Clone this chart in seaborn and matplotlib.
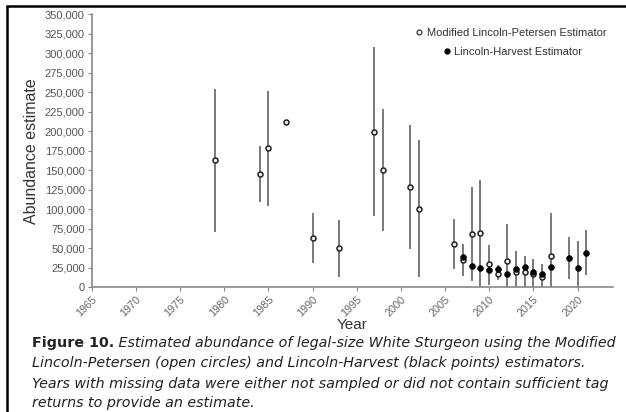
import numpy as np
import pandas as pd
import matplotlib
matplotlib.use("Agg")
import matplotlib.pyplot as plt
from matplotlib.lines import Line2D
import seaborn as sns

# ---- data ----
mlp_years = [1979, 1984, 1985, 1987, 1990, 1993, 1997, 1998, 2001, 2002, 2006,
             2007, 2008, 2009, 2010, 2011, 2012, 2013, 2014, 2015, 2016, 2017]
mlp_est = [162600, 145400, 178000, 212200, 62900, 49700, 199300, 149800, 128000, 100100, 55600,
           34700, 68400, 69300, 29100, 16700, 33800, 19300, 19300, 16300, 12400, 39800]
mlp_low = [70200, 109100, 104000, np.nan, 31200, 12400, 91100, 71500, 48400, 12400, 23100,
           14500, 8100, 0, 3000, 8600, 0, 0, 0, 0, 0, 0]
mlp_high = [253700, 181400, 251600, np.nan, 94600, 86000, 307600, 228100, 207500, 188700, 87300,
            54800, 128000, 137300, 54300, 27900, 80900, 46200, 40200, 35600, 29500, 95400]

lh_years = [2007, 2008, 2009, 2010, 2011, 2012, 2013, 2014, 2015, 2016, 2017, 2019, 2020, 2021]
lh_est = [38100, 27000, 24400, 21400, 23100, 16300, 22700, 25300, 19600, 16700, 25300, 37600, 24400, 44000]
lh_low = [np.nan] * 11 + [10700, 0, 15800]
lh_high = [np.nan] * 11 + [64200, 59400, 72800]

x_ticks = list(range(1965, 2021, 5))
y_ticks = list(range(0, 350001, 25000))

mlp = pd.DataFrame({"Year": mlp_years, "Estimate": mlp_est, "Low": mlp_low, "High": mlp_high})
lh = pd.DataFrame({"Year": lh_years, "Estimate": lh_est, "Low": lh_low, "High": lh_high})

# ---- style ----
sns.set_style("ticks")
plt.rcParams["font.family"] = ["Liberation Sans", "DejaVu Sans"]

fig = plt.figure(figsize=(6.26, 4.12), dpi=100)
W, H = 626, 412
ax = fig.add_axes([91.7 / W, 1 - 287 / H, (613 - 91.7) / W, (287 - 14.3) / H])

bar_col = "#555555"
m = mlp.dropna()
ax.vlines(m["Year"], m["Low"], m["High"], color=bar_col, lw=1.1, zorder=2)
l = lh.dropna()
ax.vlines(l["Year"], l["Low"], l["High"], color=bar_col, lw=1.1, zorder=2)

sns.scatterplot(data=mlp, x="Year", y="Estimate", ax=ax, marker="o", s=13,
                facecolor="#eeeeee", edgecolor="#222222", linewidth=1.1, zorder=3, legend=False)
sns.scatterplot(data=lh, x="Year", y="Estimate", ax=ax, marker="o", s=18,
                color="black", edgecolor="black", linewidth=0.4, zorder=4, legend=False)

ax.set_xlim(1965, 2024)
ax.set_ylim(0, 350000)
ax.set_xticks(x_ticks)
ax.set_xticklabels([str(t) for t in x_ticks], rotation=45, ha="right",
                   rotation_mode="anchor", fontsize=7.8, color="#666666")
ax.set_yticks(y_ticks)
ax.set_yticklabels([f"{t:,}" for t in y_ticks], fontsize=8, color="#555555")
for side in ["top", "right"]:
    ax.spines[side].set_visible(False)
for side in ["left", "bottom"]:
    ax.spines[side].set_color("#888888")
    ax.spines[side].set_linewidth(1.2)
ax.tick_params(axis="both", length=3, width=0.8, color="#888888", pad=2)
ax.set_xlabel("Year", fontsize=11, color="#333333", labelpad=0)
ax.set_ylabel("Abundance estimate", fontsize=11.5, color="#333333", labelpad=4)

h1 = Line2D([], [], marker="o", ls="", markersize=3.5, markerfacecolor="white",
            markeredgecolor="#333333", markeredgewidth=0.9)
h2 = Line2D([], [], marker="o", ls="", markersize=3.5, color="black")
leg1 = ax.legend(handles=[h1], labels=["Modified Lincoln-Petersen Estimator"],
                 loc="center", bbox_to_anchor=(0.804, 0.931), frameon=False,
                 fontsize=8, handlelength=0.6, handletextpad=0.4, borderpad=0,
                 labelcolor="#333333")
ax.add_artist(leg1)
ax.legend(handles=[h2], labels=["Lincoln-Harvest Estimator"],
          loc="center", bbox_to_anchor=(0.808, 0.862), frameon=False,
          fontsize=8, handlelength=0.6, handletextpad=0.4, borderpad=0,
          labelcolor="#333333")

# ---- document frame lines ----
fig.add_artist(Line2D([7 / W, 7 / W], [0, 1 - 6 / H], color="black", lw=1.8,
                      transform=fig.transFigure))
fig.add_artist(Line2D([7 / W, 1], [1 - 6 / H, 1 - 6 / H], color="black", lw=1.8,
                      transform=fig.transFigure))

# ---- caption ----
cap_col = "#222222"
cap_family = ["DejaVu Sans"]
head = "Figure 10."
lines = [
    " Estimated abundance of legal-size White Sturgeon using the Modified",
    "Lincoln-Petersen (open circles) and Lincoln-Harvest (black points) estimators.",
    "Years with missing data were either not sampled or did not contain sufficient tag",
    "returns to provide an estimate.",
]
ys = [343, 363.5, 384, 403.5]
x0 = 32 / W
fig.canvas.draw()
r = fig.canvas.get_renderer()


def width_of(txt, **kw):
    t = fig.text(0, 0, txt, fontsize=10, family=cap_family, **kw)
    w = t.get_window_extent(renderer=r).width
    t.remove()
    return w


w1 = width_of(head, fontweight="bold") + width_of(lines[0], style="italic")
w3 = width_of(lines[2], style="italic")
cap_fs = min(10 * (613 - 32) / w1, 10 * (617 - 32) / w3)

t0 = fig.text(x0, 1 - ys[0] / H, head, fontsize=cap_fs, fontweight="bold",
              family=cap_family, color=cap_col, va="center", ha="left")
bb = t0.get_window_extent(renderer=r)
fig.text(bb.x1 / W, 1 - ys[0] / H, lines[0], fontsize=cap_fs, style="italic",
         family=cap_family, color=cap_col, va="center", ha="left")
for txt, y in zip(lines[1:], ys[1:]):
    fig.text(x0, 1 - y / H, txt, fontsize=cap_fs, style="italic",
             family=cap_family, color=cap_col, va="center", ha="left")

fig.savefig("out.png", dpi=100)
